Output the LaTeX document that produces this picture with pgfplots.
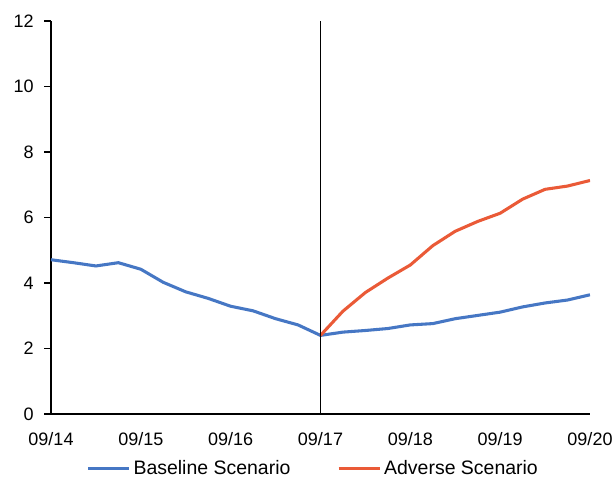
\documentclass[border=0pt]{standalone}
\usepackage{pgfplots}
\pgfplotsset{compat=1.18}
\usepackage{fontspec}
\setmainfont{Liberation Sans}
\definecolor{cblue}{RGB}{70,119,196}
\definecolor{cred}{RGB}{234,90,55}
\begin{document}
\begin{tikzpicture}
\begin{axis}[
  name=ax,
  scale only axis,
  width=404.25pt, height=294.75pt,
  xmin=0, xmax=24, ymin=0, ymax=12,
  axis x line=bottom, axis y line=left,
  axis line style={-, line width=0.8pt},
  xtick={0,4,8,12,16,20,24},
  xticklabels={09/14,09/15,09/16,09/17,09/18,09/19,09/20},
  ytick={0,2,4,6,8,10,12},
  x tick style={draw=none},
  y tick style={black, line width=0.8pt},
  tick align=outside,
  major tick length=5pt,
  tick label style={font=\fontsize{13.5}{16}\selectfont},
  /pgf/number format/assume math mode=true,
  xticklabel style={yshift=-5pt},
  yticklabel style={xshift=-4.5pt},
  legend style={at={(0.487,-0.104)}, anchor=north, draw=none, legend columns=2,
    font=\fontsize{14.6}{17}\selectfont,
    /tikz/every even column/.append style={column sep=33pt}},
  legend cell align=left,
  legend image code/.code={\draw[#1, line width=2.3pt] (0pt,0pt) -- (31pt,0pt);},
]
\addplot[cblue, line width=2.3pt] coordinates {
(0,4.71)(1,4.62)(2,4.52)(3,4.62)(4,4.42)(5,4.02)(6,3.73)(7,3.53)(8,3.29)(9,3.15)(10,2.91)(11,2.72)(12,2.40)
(13,2.50)(14,2.55)(15,2.61)(16,2.72)(17,2.76)(18,2.91)(19,3.01)(20,3.11)(21,3.27)(22,3.39)(23,3.48)(24,3.64)};
\addlegendentry{Baseline Scenario}
\addplot[cred, line width=2.3pt] coordinates {
(12,2.40)(13,3.14)(14,3.71)(15,4.15)(16,4.55)(17,5.14)(18,5.58)(19,5.88)(20,6.13)(21,6.56)(22,6.86)(23,6.96)(24,7.13)};
\addlegendentry{Adverse Scenario}
\addplot[black, line width=0.8pt, forget plot] coordinates {(12,0)(12,12)};
\end{axis}
\pgfresetboundingbox
\path (ax.south west) ++(-38.25pt,-47.25pt) rectangle ++(460.5pt,357.75pt);
\end{tikzpicture}
\end{document}
